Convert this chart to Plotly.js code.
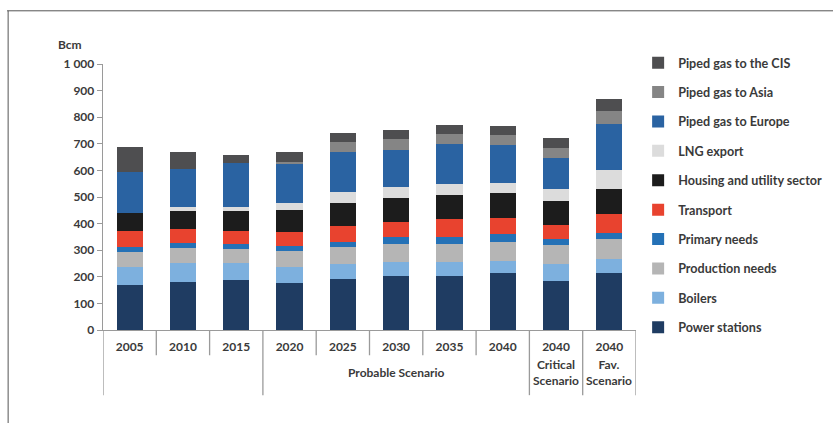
<!DOCTYPE html>
<html>
<head>
<meta charset="utf-8">
<script src="https://cdn.plot.ly/plotly-3.0.1.min.js"></script>
<style>
html,body{margin:0;padding:0;background:#fff;}
#chart{width:833px;height:423px;}
</style>
</head>
<body>
<div id="chart"></div>
<script>
// Category tick labels (years)
const years = ['2005','2010','2015','2020','2025','2030','2035','2040','2040','2040'];
const xIndex = [0,1,2,3,4,5,6,7,8,9];

// Series values, Bcm (bottom to top of each stack)
const powerStations   = [169,182,188,175,191,204,203,213,185,215];
const boilers         = [ 69, 71, 65, 63, 56, 50, 51, 46, 62, 51];
const productionNeeds = [ 56, 54, 52, 59, 64, 69, 69, 73, 73, 75];
const primaryNeeds    = [ 19, 19, 17, 20, 21, 28, 28, 29, 21, 25];
const transport       = [ 60, 53, 49, 50, 59, 56, 65, 59, 54, 70];
const housingUtility  = [ 66, 70, 78, 84, 88, 90, 92, 94, 91, 93];
const lngExport       = [  0, 15, 15, 25, 41, 42, 40, 37, 44, 73];
const pipedEurope     = [156,140,163,147,150,138,150,144,118,172];
const pipedAsia       = [  0,  0,  0, 10, 38, 41, 38, 38, 37, 51];
const pipedCIS        = [ 92, 65, 31, 37, 34, 34, 35, 35, 35, 42];

const seriesNames = ['Power stations','Boilers','Production needs','Primary needs','Transport',
  'Housing and utility sector','LNG export','Piped gas to Europe','Piped gas to Asia','Piped gas to the CIS'];
const seriesValues = [powerStations,boilers,productionNeeds,primaryNeeds,transport,
  housingUtility,lngExport,pipedEurope,pipedAsia,pipedCIS];
const seriesColors = ['#1f3c62','#7db0de','#b5b5b5','#2471b6','#e8432f',
  '#1c1c1c','#dcdcdc','#2a63a2','#858585','#4e4e50'];

const txtFont = {family:'Lato, "Open Sans", sans-serif', size:12, color:'#3a3a3a', weight:'bold'};
const legFont = {family:'Lato, "Open Sans", sans-serif', size:12.6, color:'#3a3a3a', weight:'bold'};

const traces = seriesNames.map((n,i)=>({
  type:'bar', name:n, x:xIndex, y:seriesValues[i],
  marker:{color:seriesColors[i], line:{width:0}},
  width:0.49, legendgroup:'g'+i, legendrank:1000-i*10, hoverinfo:'skip'
}));

// Category boundaries for divider lines
const shortDividers = [0.5,1.5,3.5,4.5,5.5,6.5];
const longDividers = [-0.5,2.5,7.5,8.5,9.5];
const shapes = [];
shortDividers.forEach(b=>shapes.push({type:'line',xref:'x',yref:'paper',x0:b,x1:b,y0:0,y1:-0.095,line:{color:'#9a9a9a',width:1.3}}));
longDividers.forEach(b=>shapes.push({type:'line',xref:'x',yref:'paper',x0:b,x1:b,y0:0,y1:-0.245,line:{color:'#9a9a9a',width:1.3}}));
// outer frame (top and left)
shapes.push({type:'line',xref:'paper',yref:'paper',x0:-0.18,x1:1.4,y0:1.2,y1:1.2,line:{color:'#555',width:1}});
shapes.push({type:'line',xref:'paper',yref:'paper',x0:-0.178,x1:-0.178,y0:1.2,y1:-0.36,line:{color:'#555',width:1}});

const groupLabels = [
  {x:5, text:'Probable Scenario', y:-0.158},
  {x:8, text:'Critical<br>Scenario', y:-0.16},
  {x:9, text:'Fav.<br>Scenario', y:-0.16}
];
const annotations = groupLabels.map(g=>({xref:'x',yref:'paper',x:g.x,y:g.y,text:g.text,showarrow:false,
  font:txtFont,yanchor:'middle',xanchor:'center',align:'center'}));
annotations.push({xref:'paper',yref:'paper',x:-0.062,y:1.075,text:'Bcm',showarrow:false,font:txtFont,xanchor:'center',yanchor:'middle'});

const layout = {
  width:833, height:423,
  margin:{l:103,r:197,t:64,b:93,autoexpand:false},
  paper_bgcolor:'#fff', plot_bgcolor:'#fff',
  barmode:'stack',
  separators:'. ',
  font:txtFont,
  showlegend:true,
  legend:{x:1.004,xanchor:'left',y:1.06,yanchor:'top',traceorder:'grouped',tracegroupgap:10,
    font:legFont,bgcolor:'rgba(0,0,0,0)',maxheight:400},
  xaxis:{range:[-0.5,9.5],tickmode:'array',tickvals:xIndex,ticktext:years,showline:true,linecolor:'#9a9a9a',linewidth:1.3,
    ticks:'',ticklabelstandoff:5,showgrid:false,zeroline:false,tickfont:txtFont,fixedrange:true},
  yaxis:{range:[0,1000],dtick:100,tickformat:',',showline:true,linecolor:'#9a9a9a',linewidth:1.3,ticks:'outside',
    ticklen:5,tickcolor:'#9a9a9a',showgrid:false,zeroline:false,tickfont:txtFont,fixedrange:true},
  shapes:shapes,
  annotations:annotations
};

Plotly.newPlot('chart', traces, layout, {displayModeBar:false, staticPlot:true});
</script>
</body>
</html>
